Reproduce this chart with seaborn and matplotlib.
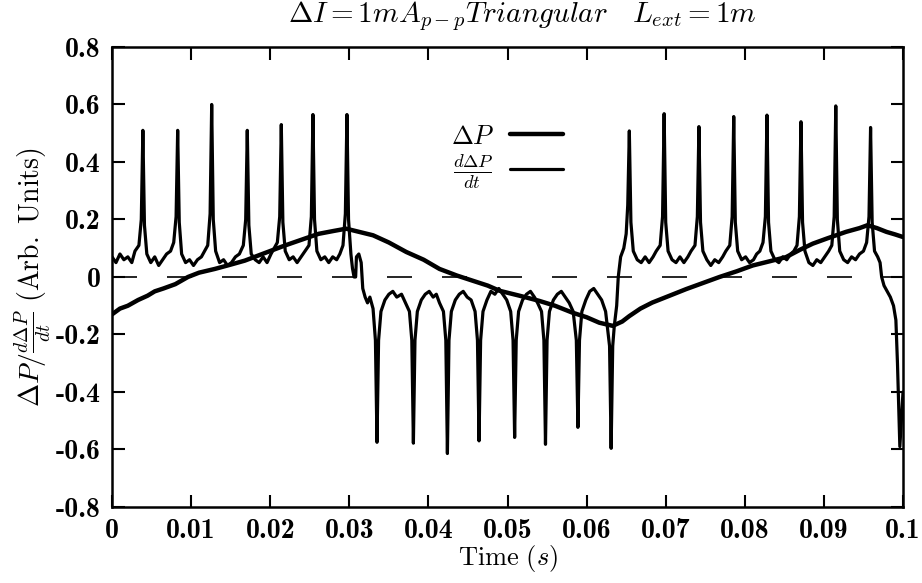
import matplotlib
matplotlib.use("Agg")
import matplotlib.pyplot as plt
import seaborn as sns
import pandas as pd

# slow triangular response, Delta P  (time s, arb. units)
dp_points = [
    (0.0000, -0.13), (0.0010, -0.11), (0.0020, -0.10), (0.0033, -0.08), (0.0045, -0.065),
    (0.0054, -0.05), (0.0065, -0.04), (0.0080, -0.025), (0.0096, 0.0), (0.0110, 0.015),
    (0.0130, 0.028), (0.0150, 0.043), (0.0168, 0.057), (0.0190, 0.08), (0.0219, 0.11),
    (0.0240, 0.13), (0.0261, 0.15), (0.0280, 0.16), (0.0296, 0.168), (0.0330, 0.145),
    (0.0350, 0.12), (0.0372, 0.087), (0.0394, 0.06), (0.0414, 0.028), (0.0436, 0.005),
    (0.0456, -0.013), (0.0475, -0.03), (0.0490, -0.048), (0.0515, -0.065), (0.0540, -0.083),
    (0.0560, -0.10), (0.0582, -0.124), (0.0600, -0.14), (0.0616, -0.159), (0.0633, -0.17),
    (0.0645, -0.155), (0.0654, -0.136), (0.0668, -0.11), (0.0683, -0.089), (0.0705, -0.065),
    (0.0726, -0.042), (0.0748, -0.02), (0.0768, 0.0), (0.0790, 0.02), (0.0810, 0.04),
    (0.0832, 0.055), (0.0852, 0.069), (0.0870, 0.095), (0.0886, 0.116), (0.0905, 0.135),
    (0.0928, 0.157), (0.0945, 0.17), (0.0955, 0.18), (0.0967, 0.17), (0.0979, 0.157),
    (0.0990, 0.148), (0.1000, 0.139),
]

# derivative dDeltaP/dt, first high part with positive spikes
deriv_high1 = [
    (0.0000, 0.07), (0.0005, 0.05), (0.0010, 0.08), (0.0015, 0.06), (0.0020, 0.07), (0.0025, 0.05),
    (0.0029, 0.09), (0.0034, 0.11), (0.0037, 0.20), (0.0039, 0.51), (0.0041, 0.18), (0.0044, 0.08),
    (0.0049, 0.05), (0.0054, 0.07), (0.0059, 0.04), (0.0064, 0.06), (0.0069, 0.08), (0.0074, 0.09),
    (0.0078, 0.12), (0.0081, 0.21), (0.0083, 0.51), (0.0085, 0.19), (0.0088, 0.08),
    (0.0093, 0.05), (0.0098, 0.06), (0.0103, 0.04), (0.0108, 0.06), (0.0113, 0.07), (0.0117, 0.09),
    (0.0121, 0.11), (0.0124, 0.22), (0.0126, 0.60), (0.0128, 0.20), (0.0131, 0.09),
    (0.0136, 0.05), (0.0141, 0.06), (0.0146, 0.04), (0.0151, 0.05), (0.0156, 0.07), (0.0161, 0.08),
    (0.0166, 0.11), (0.0169, 0.20), (0.0171, 0.51), (0.0173, 0.18), (0.0176, 0.08),
    (0.0181, 0.06), (0.0186, 0.05), (0.0191, 0.07), (0.0196, 0.05), (0.0201, 0.08), (0.0205, 0.10),
    (0.0209, 0.12), (0.0212, 0.21), (0.0214, 0.53), (0.0216, 0.19), (0.0219, 0.09),
    (0.0224, 0.06), (0.0229, 0.07), (0.0234, 0.05), (0.0239, 0.07), (0.0244, 0.09),
    (0.0249, 0.11), (0.0252, 0.21), (0.0254, 0.565), (0.0256, 0.20), (0.0259, 0.09),
    (0.0264, 0.06), (0.0269, 0.07), (0.0274, 0.05), (0.0279, 0.07), (0.0284, 0.06), (0.0288, 0.08),
    (0.0292, 0.11), (0.0295, 0.22), (0.0297, 0.565), (0.0299, 0.20), (0.0302, 0.08),
    (0.0304, 0.03), (0.0306, 0.00), (0.0308, 0.00), (0.0309, 0.07), (0.0312, 0.08), (0.0315, 0.05),
    (0.0317, -0.04),
]

# low part with negative dips
deriv_low = [
    (0.0320, -0.07), (0.0323, -0.09), (0.0326, -0.07), (0.0330, -0.11), (0.0333, -0.22),
    (0.0335, -0.575), (0.0337, -0.22), (0.0340, -0.12), (0.0345, -0.08), (0.0350, -0.06),
    (0.0355, -0.05), (0.0360, -0.07), (0.0366, -0.06), (0.0371, -0.09), (0.0376, -0.12),
    (0.0379, -0.22), (0.0381, -0.578), (0.0383, -0.22), (0.0386, -0.12), (0.0391, -0.08),
    (0.0396, -0.06), (0.0401, -0.05), (0.0406, -0.07), (0.0410, -0.06), (0.0414, -0.09),
    (0.0419, -0.12), (0.0422, -0.22), (0.0424, -0.614), (0.0426, -0.22), (0.0429, -0.12),
    (0.0434, -0.08), (0.0439, -0.06), (0.0444, -0.05), (0.0449, -0.07), (0.0454, -0.08),
    (0.0459, -0.12), (0.0462, -0.22), (0.0464, -0.57), (0.0466, -0.22), (0.0469, -0.12),
    (0.0474, -0.08), (0.0479, -0.05), (0.0484, -0.06), (0.0489, -0.04), (0.0494, -0.06),
    (0.0499, -0.08), (0.0504, -0.12), (0.0507, -0.22), (0.0509, -0.558), (0.0511, -0.22),
    (0.0514, -0.12), (0.0519, -0.08), (0.0524, -0.06), (0.0529, -0.05), (0.0534, -0.07),
    (0.0538, -0.09), (0.0543, -0.12), (0.0546, -0.22), (0.0548, -0.582), (0.0550, -0.22),
    (0.0553, -0.12), (0.0558, -0.08), (0.0563, -0.06), (0.0568, -0.05), (0.0573, -0.07),
    (0.0578, -0.09), (0.0583, -0.12), (0.0587, -0.22), (0.0589, -0.523), (0.0591, -0.22),
    (0.0594, -0.12), (0.0599, -0.08), (0.0604, -0.05), (0.0609, -0.04), (0.0614, -0.06),
    (0.0619, -0.08), (0.0624, -0.12), (0.0629, -0.24), (0.0631, -0.596), (0.0633, -0.24),
    (0.0635, -0.17), (0.0638, -0.10), (0.0640, 0.00), (0.0643, 0.07), (0.0647, 0.10),
    (0.0650, 0.15), (0.0652, 0.25),
]

# second high part, then the drop at the end
deriv_high2 = [
    (0.0654, 0.508), (0.0656, 0.19), (0.0659, 0.09), (0.0664, 0.06), (0.0669, 0.05), (0.0674, 0.07),
    (0.0679, 0.05), (0.0684, 0.07), (0.0688, 0.09), (0.0693, 0.11), (0.0696, 0.21), (0.0698, 0.568),
    (0.0700, 0.19), (0.0703, 0.09), (0.0708, 0.06), (0.0713, 0.05), (0.0718, 0.07), (0.0723, 0.05),
    (0.0728, 0.07), (0.0732, 0.09), (0.0737, 0.11), (0.0740, 0.21), (0.0742, 0.523), (0.0744, 0.19),
    (0.0747, 0.09), (0.0752, 0.06), (0.0757, 0.04), (0.0762, 0.06), (0.0767, 0.05), (0.0772, 0.07),
    (0.0776, 0.09), (0.0781, 0.11), (0.0784, 0.21), (0.0786, 0.558), (0.0788, 0.19), (0.0791, 0.09),
    (0.0796, 0.06), (0.0801, 0.07), (0.0806, 0.05), (0.0811, 0.06), (0.0815, 0.08), (0.0819, 0.09),
    (0.0823, 0.12), (0.0826, 0.21), (0.0828, 0.563), (0.0830, 0.19), (0.0833, 0.09), (0.0838, 0.06),
    (0.0843, 0.05), (0.0848, 0.07), (0.0853, 0.06), (0.0858, 0.08), (0.0862, 0.09), (0.0866, 0.11),
    (0.0869, 0.21), (0.0871, 0.54), (0.0873, 0.19), (0.0876, 0.09), (0.0881, 0.05), (0.0886, 0.04),
    (0.0891, 0.06), (0.0896, 0.05), (0.0901, 0.07), (0.0906, 0.09), (0.0910, 0.11), (0.0913, 0.21),
    (0.0915, 0.595), (0.0917, 0.20), (0.0920, 0.09), (0.0925, 0.06), (0.0930, 0.05), (0.0935, 0.07),
    (0.0940, 0.06), (0.0945, 0.08), (0.0950, 0.09), (0.0954, 0.12), (0.0957, 0.21), (0.0959, 0.52),
    (0.0961, 0.19), (0.0964, 0.09), (0.0968, 0.07), (0.0971, 0.05), (0.0973, 0.00), (0.0976, -0.03),
    (0.0980, -0.05), (0.0984, -0.07), (0.0988, -0.10), (0.0991, -0.15), (0.0993, -0.30),
    (0.0996, -0.59), (0.1000, -0.40),
]

x_ticks = [0, 0.01, 0.02, 0.03, 0.04, 0.05, 0.06, 0.07, 0.08, 0.09, 0.1]
x_tick_labels = ["0", "0.01", "0.02", "0.03", "0.04", "0.05", "0.06", "0.07", "0.08", "0.09", "0.1"]
y_ticks = [-0.8, -0.6, -0.4, -0.2, 0, 0.2, 0.4, 0.6, 0.8]
y_tick_labels = ["-0.8", "-0.6", "-0.4", "-0.2", "0", "0.2", "0.4", "0.6", "0.8"]

sns.set_style("ticks", {"axes.edgecolor": "black", "xtick.color": "black",
                        "ytick.color": "black", "text.color": "black",
                        "axes.labelcolor": "black"})
plt.rcParams["mathtext.fontset"] = "cm"
plt.rcParams["axes.unicode_minus"] = False

dp_df = pd.DataFrame(dp_points, columns=["t", "v"])
deriv_df = pd.DataFrame(deriv_high1 + deriv_low + deriv_high2, columns=["t", "v"])

fig = plt.figure(figsize=(9.22, 5.83), dpi=100)
ax = fig.add_axes([0.1215, 0.1304, 0.8579, 0.789])

ax.axhline(0, color="black", lw=1.2, ls=(0, (15, 18)), zorder=1)
sns.lineplot(data=dp_df, x="t", y="v", sort=False, estimator=None, color="black",
             lw=3.2, ax=ax, label=r"$\Delta P$")
sns.lineplot(data=deriv_df, x="t", y="v", sort=False, estimator=None, color="black",
             lw=2.3, ax=ax, label=r"$\frac{d\Delta P}{dt}$")

ax.set_xlim(0, 0.1)
ax.set_ylim(-0.8, 0.8)
ax.set_xticks(x_ticks)
ax.set_xticklabels(x_tick_labels, fontfamily="cmb10", fontsize=20)
ax.set_yticks(y_ticks)
ax.set_yticklabels(y_tick_labels, fontfamily="cmb10", fontsize=20)
ax.tick_params(direction="in", length=9, width=1.5, top=True, right=True, pad=8)
for s in ax.spines.values():
    s.set_linewidth(1.8)

ax.set_xlabel(r"$\mathrm{Time}\ (s)$", fontsize=19, labelpad=-1)
ax.set_ylabel(r"$\Delta P/\frac{d\Delta P}{dt}\ \mathrm{(Arb.\ Units)}$", fontsize=20)
ax.yaxis.set_label_coords(-0.075, 0.5)
fig.text(0.566, 0.972, r"$\Delta I = 1mA_{p-p}Triangular\quad L_{ext} = 1m$",
         ha="center", va="center", fontsize=21)

ax.legend(loc="upper right", bbox_to_anchor=(0.60, 0.885), frameon=False, markerfirst=False,
          fontsize=19, handlelength=2.0, handletextpad=0.6, labelspacing=0.1)

fig.savefig("out.png", dpi=100)
